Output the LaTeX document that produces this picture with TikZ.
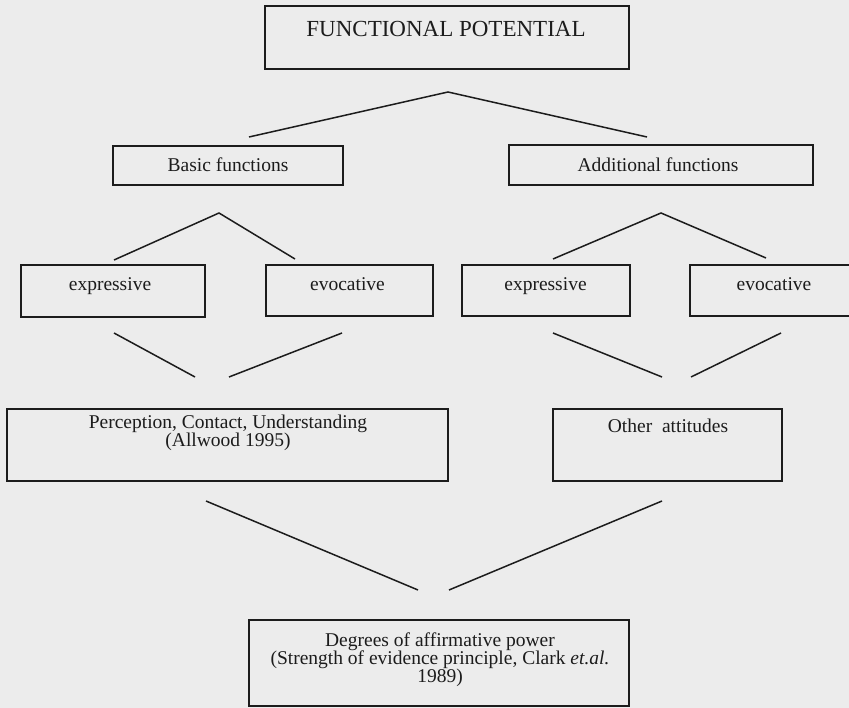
\documentclass[tikz,border=0pt]{standalone}
\usepackage{fontspec}
\setmainfont{Liberation Serif}
\definecolor{bg}{RGB}{236,236,236}
\definecolor{ink}{RGB}{28,28,28}
\tikzset{
  box/.style={draw=ink, line width=1.5pt, inner sep=0pt},
  lbl/.style={inner sep=0pt, text=ink, font=\fontsize{19.5}{18}\selectfont},
  ttl/.style={inner sep=0pt, text=ink, font=\fontsize{23}{26}\selectfont},
  conn/.style={draw=ink, line width=1.5pt},
}
\begin{document}
\begin{tikzpicture}[x=1pt,y=-1pt]
\useasboundingbox (0,0) rectangle (849,708);
\clip (0,0) rectangle (849,708);
\fill[bg] (0,0) rectangle (849,708);

% boxes
\node[box, minimum width=364pt, minimum height=63pt] (title) at (447,37.5) {};
\node[box, minimum width=230pt, minimum height=39pt] (basic) at (228,165.5) {};
\node[box, minimum width=304pt, minimum height=40pt] (addl) at (661,165) {};
\node[box, minimum width=184pt, minimum height=52pt] (expA) at (113,291) {};
\node[box, minimum width=167pt, minimum height=51pt] (evoA) at (349.5,290.5) {};
\node[box, minimum width=168pt, minimum height=51pt] (expB) at (546,290.5) {};
\node[box, minimum width=190pt, minimum height=51pt] (evoB) at (785,290.5) {};
\node[box, minimum width=441pt, minimum height=72pt] (perc) at (227.5,445) {};
\node[box, minimum width=229pt, minimum height=72pt] (other) at (667.5,445) {};
\node[box, minimum width=380pt, minimum height=86pt] (degr) at (439,663) {};

% texts
\node[ttl, anchor=base] (titleT) at (446,36.5) {FUNCTIONAL POTENTIAL};
\node[lbl, anchor=base] (basicT) at (228,172) {Basic functions};
\node[lbl, anchor=base] (addlT) at (658,172) {Additional functions};
\node[lbl, anchor=base] (expAT) at (110,291) {expressive};
\node[lbl, anchor=base] (evoAT) at (347.5,291) {evocative};
\node[lbl, anchor=base] (expBT) at (545.5,291) {expressive};
\node[lbl, anchor=base] (evoBT) at (774,291) {evocative};
\node[lbl, align=center] (percT) at (228,432.5) {Perception, Contact, Understanding\\(Allwood 1995)};
\node[lbl, anchor=base] (otherT) at (668,433) {Other\enspace attitudes};
\node[lbl, align=center] (degrT) at (440,660) {Degrees of affirmative power\\(Strength of evidence principle, Clark \textit{et.al.}\\1989)};

% connector end points
\coordinate (a0) at (448,92);
\coordinate (a0l) at (249,137);
\coordinate (a0r) at (647,137);
\coordinate (b0) at (219,213);
\coordinate (b0l) at (114,260);
\coordinate (b0r) at (295,259);
\coordinate (c0) at (661,213);
\coordinate (c0l) at (553,259);
\coordinate (c0r) at (766,258);
\coordinate (d1) at (114,333);
\coordinate (d1e) at (195,377);
\coordinate (d2) at (342,333);
\coordinate (d2e) at (229,377);
\coordinate (e1) at (553,333);
\coordinate (e1e) at (662,377);
\coordinate (e2) at (781,333);
\coordinate (e2e) at (691,377);
\coordinate (f1) at (206,501);
\coordinate (f1e) at (418,590);
\coordinate (f2) at (662,501);
\coordinate (f2e) at (449,590);

% connectors
\draw[conn] (a0l) -- (a0) -- (a0r);
\draw[conn] (b0l) -- (b0) -- (b0r);
\draw[conn] (c0l) -- (c0) -- (c0r);
\draw[conn] (d1) -- (d1e);
\draw[conn] (d2) -- (d2e);
\draw[conn] (e1) -- (e1e);
\draw[conn] (e2) -- (e2e);
\draw[conn] (f1) -- (f1e);
\draw[conn] (f2) -- (f2e);
\end{tikzpicture}
\end{document}
